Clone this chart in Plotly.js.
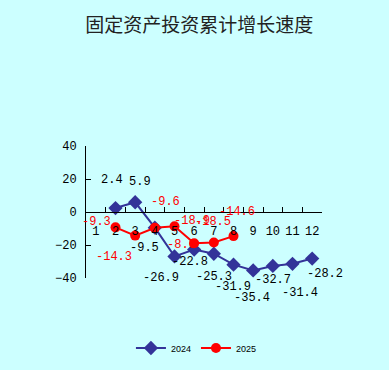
<!DOCTYPE html>
<html>
<head>
<meta charset="utf-8">
<script src="https://cdn.plot.ly/plotly-3.0.1.min.js"></script>
<style>html,body{margin:0;padding:0;background:#CCFFFF;}#chart{width:389px;height:370px;}</style>
</head>
<body>
<div id="chart"></div>
<script>
// ---- data ----
const months = ['1','2','3','4','5','6','7','8','9','10','11','12'];
const months2024 = ['2','3','4','5','6','7','8','9','10','11','12'];
const values2024 = [2.4, 5.9, -9.5, -26.9, -22.8, -25.3, -31.9, -35.4, -32.7, -31.4, -28.2];
const months2025 = ['2','3','4','5','6','7','8'];
const values2025 = [-9.3, -14.3, -9.6, -8.6, -18.9, -18.5, -14.6];
const seriesNames = ['2024', '2025'];
const yTicks = [40, 20, 0, -20, -40];
const titleText = '固定资产投资累计增长速度';

// ---- label placement (pixel offsets of each data label from its point) ----
const off2024 = [[-4,-28],[5,-20],[-10,20],[-14,22],[-4,12],[0,23],[-1,22],[-1,28],[0,14],[7,29],[13,15]];
const off2025 = [[-19,-5],[-21,21],[11,-26],[7,19],[-2,-22],[-1,-21],[3,-24]];

const monoFont = 'Liberation Mono, DejaVu Sans Mono, monospace';
const blue = '#333399', red = '#FF0000';

function labels(xs, vs, offs, color) {
  return xs.map((x, i) => ({
    x: months.indexOf(x), y: vs[i], xref: 'x', yref: 'y', text: vs[i].toFixed(1),
    showarrow: false, xshift: offs[i][0], yshift: -offs[i][1],
    font: {family: monoFont, size: 12, color: color}
  }));
}

const traces = [
  {x: months2024, y: values2024, name: seriesNames[0], type: 'scatter', mode: 'lines+markers',
   line: {color: blue, width: 2}, marker: {symbol: 'diamond', size: 11, color: blue}},
  {x: months2025, y: values2025, name: seriesNames[1], type: 'scatter', mode: 'lines+markers',
   line: {color: red, width: 2}, marker: {symbol: 'circle', size: 10, color: red}}
];

const layout = {
  width: 389, height: 370,
  paper_bgcolor: '#CCFFFF', plot_bgcolor: '#CCFFFF',
  margin: {l: 86, r: 67, t: 146, b: 92, pad: 0},
  title: {text: titleText, x: 0.512, xref: 'container', xanchor: 'center',
          y: 0.932, yref: 'container', yanchor: 'middle',
          font: {family: 'Noto Sans CJK SC', size: 19, color: '#222222'}},
  showlegend: true,
  legend: {orientation: 'h', x: 0.505, xref: 'container', xanchor: 'center',
           y: 0.0595, yref: 'container', yanchor: 'middle',
           font: {family: 'Liberation Sans', size: 9, color: '#000'},
           bgcolor: 'rgba(0,0,0,0)', itemwidth: 30},
  xaxis: {type: 'category', categoryorder: 'array', categoryarray: months,
          range: [-0.5, 11.5], anchor: 'free', position: 0.5,
          showline: true, linecolor: '#000', linewidth: 1,
          ticks: 'inside', ticklen: 5, tickcolor: '#000', tickson: 'boundaries',
          tickangle: 0, ticklabelstandoff: 8,
          showgrid: false, zeroline: false, fixedrange: true,
          tickfont: {family: monoFont, size: 12, color: '#000'}},
  yaxis: {range: [-40, 40], tickvals: yTicks, showline: true, linecolor: '#000', linewidth: 1,
          ticks: 'inside', ticklen: 5, tickcolor: '#000', showgrid: false, zeroline: false,
          ticklabelstandoff: 6,
          tickfont: {family: monoFont, size: 12, color: '#000'}},
  annotations: labels(months2024, values2024, off2024, '#000').concat(labels(months2025, values2025, off2025, red))
};

Plotly.newPlot('chart', traces, layout, {displayModeBar: false, staticPlot: true});
</script>
</body>
</html>
